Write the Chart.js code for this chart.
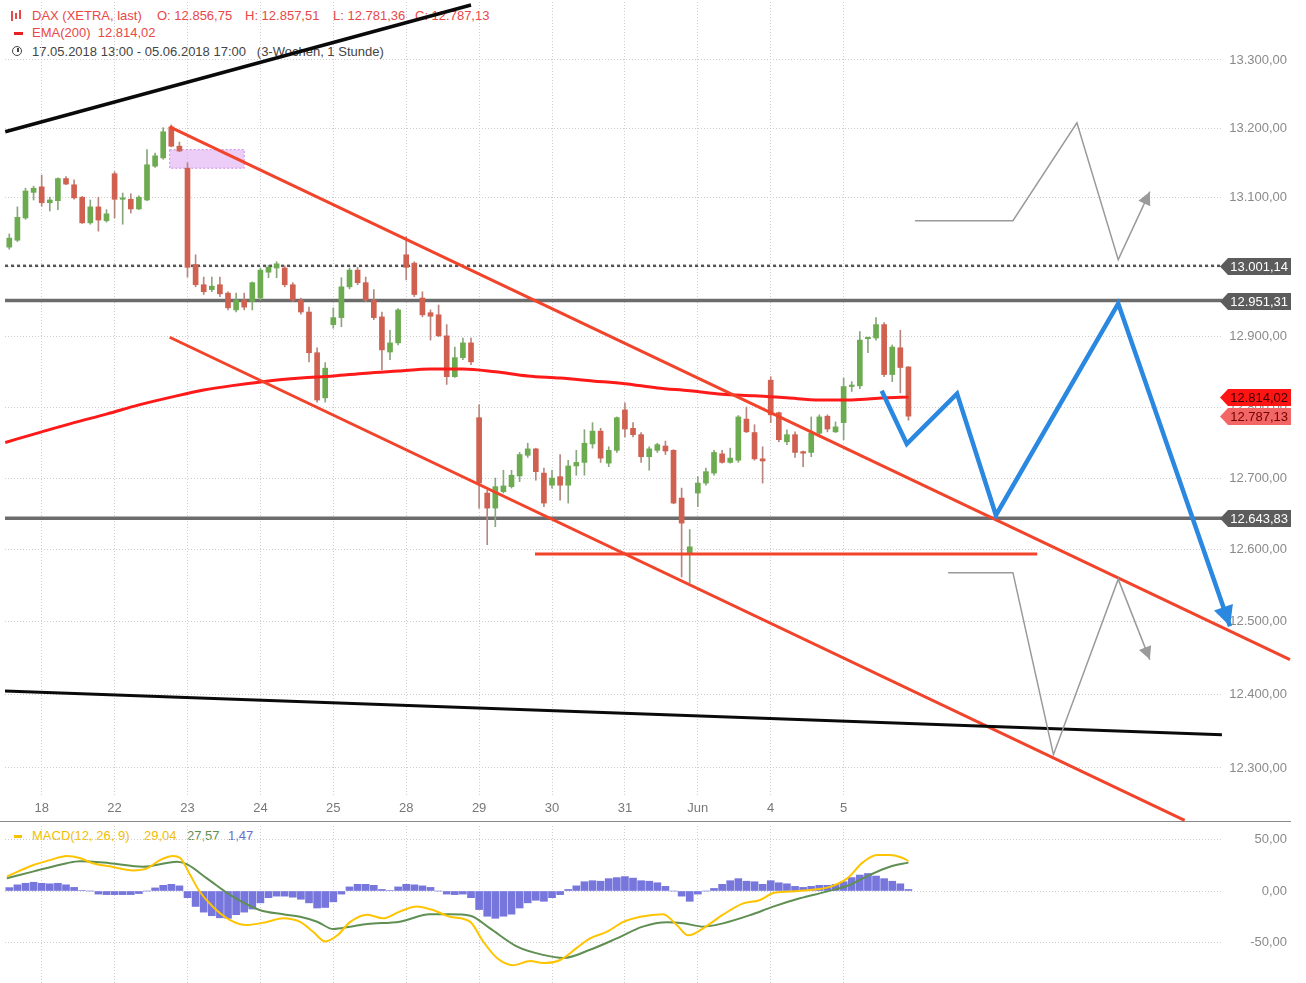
<!DOCTYPE html>
<html>
<head>
<meta charset="utf-8">
<script src="https://cdn.jsdelivr.net/npm/chart.js@4.4.1/dist/chart.umd.min.js"></script>
<style>
  html, body { margin: 0; padding: 0; background: #fff; }
  body { width: 1306px; height: 983px; position: relative; overflow: hidden; font-family: "Liberation Sans", Arial, sans-serif; }
  canvas { position: absolute; left: 0; z-index: 2; }
  #main { top: 0; }
  #macd { top: 822px; }
  .t { position: absolute; font-size: 13px; line-height: 16px; white-space: nowrap; z-index: 1; }
  .red { color: #e84848; }
  .sep { position: absolute; left: 0; top: 821px; width: 1291px; height: 1px; background: #8a8a8a; z-index: 1; }
  .ic { position: absolute; z-index: 1; }
</style>
</head>
<body>
<!-- Legenda hlavního grafu -->
<span class="ic" style="left:11px;top:11px;width:2px;height:10px;background:#e84848"></span>
<span class="ic" style="left:15px;top:13px;width:2px;height:6px;background:#e84848"></span>
<span class="ic" style="left:19px;top:10px;width:2px;height:9px;background:#e84848"></span>
<div class="t red" style="left:32px;top:8px">DAX (XETRA, last)</div>
<div class="t red" style="left:157px;top:8px">O: 12.856,75</div>
<div class="t red" style="left:245px;top:8px">H: 12.857,51</div>
<div class="t red" style="left:333px;top:8px">L: 12.781,36</div>
<div class="t red" style="left:415px;top:8px">C: 12.787,13</div>
<span class="ic" style="left:14px;top:32px;width:9px;height:3px;background:#e82020"></span>
<div class="t red" style="left:32px;top:25px">EMA(200)&nbsp; 12.814,02</div>
<span class="ic" style="left:12px;top:46px;width:8px;height:8px;border:1.6px solid #444;border-radius:50%"></span>
<span class="ic" style="left:17px;top:48px;width:1.5px;height:4px;background:#444"></span>
<div class="t" style="left:32px;top:44px;color:#444">17.05.2018 13:00 - 05.06.2018 17:00&nbsp;&nbsp; (3-Wochen, 1 Stunde)</div>
<!-- Legenda MACD -->
<span class="ic" style="left:14px;top:835px;width:8px;height:3px;background:#f7c200"></span>
<div class="t" style="left:32px;top:828px;color:#f2bd00">MACD(12, 26, 9)</div>
<div class="t" style="left:144px;top:828px;color:#f2bd00">29,04</div>
<div class="t" style="left:187px;top:828px;color:#5f8f52">27,57</div>
<div class="t" style="left:228px;top:828px;color:#6a6ad2">1,47</div>
<div class="sep"></div>
<canvas id="main" width="1306" height="822"></canvas>
<canvas id="macd" width="1306" height="161"></canvas>
<script>
Chart.defaults.font.family = '"Liberation Sans", Arial, sans-serif';
Chart.defaults.font.size = 13;
Chart.defaults.animation = false;

// Osa X: index hodinové svíčky, popisky na první svíčce dne
const dayIdx = [4, 13, 22, 31, 40, 49, 58, 67, 76, 85, 94, 103];
const dayLabels = ['18', '22', '23', '24', '25', '28', '29', '30', '31', 'Jun', '4', '5'];
const priceTicks = [12300, 12400, 12500, 12600, 12700, 12800, 12900, 13000, 13100, 13200, 13300];
const macdTicks = [-50, 0, 50];

// DAX 1h OHLC (17.05. 14:00 – 05.06. 17:00)
const open = [13028, 13038, 13070, 13107, 13115, 13092, 13095, 13127, 13118, 13100,
  13063, 13086, 13066, 13134, 13097, 13097, 13083, 13096, 13145, 13157,
  13202, 13174, 13142, 13003, 12974, 12967, 12974, 12962, 12938, 12952,
  12950, 12955, 12992, 12998, 12998, 12974, 12952, 12935, 12877, 12813,
  12917, 12927, 12971, 12995, 12977, 12952, 12928, 12878, 12891, 13017,
  13005, 12955, 12934, 12931, 12901, 12843, 12870, 12891, 12785, 12679,
  12658, 12681, 12688, 12703, 12732, 12741, 12707, 12690, 12702, 12690,
  12717, 12722, 12748, 12766, 12721, 12739, 12796, 12770, 12761, 12730,
  12739, 12745, 12739, 12672, 12595, 12679, 12693, 12707, 12734, 12722,
  12725, 12783, 12764, 12727, 12838, 12792, 12751, 12761, 12736, 12736,
  12763, 12787, 12765, 12778, 12829, 12830, 12897, 12898, 12917, 12846,
  12884, 12856.75];
const high = [13047, 13086, 13113, 13116, 13132, 13100, 13128, 13130, 13125, 13101,
  13096, 13100, 13082, 13137, 13106, 13105, 13102, 13169, 13164, 13201,
  13205, 13180, 13150, 13017, 12985, 12985, 12985, 12964, 12962, 12962,
  12978, 12998, 13002, 13007, 13001, 12977, 12955, 12942, 12884, 12863,
  12941, 12984, 12998, 12999, 12985, 12967, 12935, 12909, 12940, 13043,
  13007, 12964, 12938, 12945, 12917, 12885, 12898, 12898, 12803, 12683,
  12700, 12711, 12711, 12736, 12749, 12742, 12714, 12711, 12733, 12725,
  12739, 12768, 12778, 12770, 12744, 12786, 12806, 12778, 12764, 12744,
  12749, 12752, 12740, 12686, 12628, 12702, 12714, 12739, 12739, 12742,
  12788, 12800, 12775, 12744, 12843, 12793, 12768, 12765, 12738, 12786,
  12789, 12789, 12779, 12841, 12836, 12907, 12899, 12927, 12920, 12888,
  12909, 12857.51];
const low = [13025, 13036, 13068, 13096, 13087, 13080, 13082, 13118, 13097, 13062,
  13061, 13051, 13064, 13070, 13061, 13077, 13082, 13095, 13143, 13155,
  13173, 13166, 12985, 12971, 12960, 12964, 12957, 12938, 12935, 12938,
  12938, 12952, 12984, 12984, 12971, 12950, 12932, 12864, 12807, 12807,
  12912, 12914, 12968, 12974, 12950, 12924, 12853, 12867, 12888, 12981,
  12957, 12928, 12895, 12900, 12832, 12842, 12867, 12860, 12658, 12607,
  12632, 12679, 12686, 12695, 12729, 12697, 12660, 12686, 12669, 12665,
  12704, 12704, 12742, 12722, 12716, 12736, 12758, 12758, 12722, 12711,
  12736, 12733, 12664, 12562, 12554, 12660, 12690, 12704, 12721, 12721,
  12722, 12764, 12725, 12693, 12778, 12751, 12747, 12729, 12716, 12730,
  12758, 12765, 12764, 12754, 12822, 12826, 12877, 12895, 12843, 12836,
  12820, 12781.36];
const close = [13041, 13071, 13109, 13113, 13092, 13096, 13127, 13119, 13099, 13063,
  13086, 13067, 13076, 13097, 13099, 13083, 13100, 13147, 13160, 13195,
  13174, 13167, 12999, 12974, 12964, 12972, 12961, 12941, 12952, 12942,
  12977, 12995, 12999, 13004, 12974, 12952, 12935, 12877, 12810, 12855,
  12927, 12971, 12995, 12977, 12952, 12927, 12881, 12891, 12938, 12999,
  12960, 12931, 12929, 12901, 12843, 12870, 12891, 12864, 12693, 12658,
  12688, 12689, 12704, 12733, 12741, 12709, 12665, 12700, 12690, 12717,
  12722, 12749, 12766, 12728, 12739, 12785, 12769, 12761, 12730, 12741,
  12747, 12738, 12665, 12637, 12604, 12693, 12709, 12736, 12722, 12728,
  12786, 12765, 12727, 12724, 12789, 12754, 12761, 12736, 12735, 12763,
  12786, 12769, 12772, 12829, 12831, 12895, 12898, 12917, 12846, 12885,
  12856, 12787.13];

// EMA(200) odečtená po 4 svíčkách
const emaIdx = [-0.5, 4, 8, 12, 16, 20, 24, 28, 32, 36, 40, 44, 48, 52, 56, 60, 64, 68, 72, 76, 80, 84, 88, 92, 96, 100, 104, 108, 111];
const emaVal = [12750, 12765, 12778, 12790, 12803, 12814, 12824, 12831, 12837, 12841, 12844, 12848, 12851, 12854, 12854,
  12850, 12844, 12841, 12837, 12833, 12827, 12823, 12818, 12816, 12813, 12810, 12810, 12813, 12814.02];

// Horizontální úrovně a kresby (index svíčky, cena)
const levels = [13001.14, 12951.31, 12643.83];
const supportX = [64.9, 126.9];
const supportY = [12594, 12594];
const chanTopX = [19.8, 158.1];
const chanTopY = [13202, 12448];
const chanBotX = [19.8, 145.1];
const chanBotY = [12899, 12229];
const trendUpX = [-0.5, 57];
const trendUpY = [13195, 13381];
const trendLowX = [-0.53, 149.7];
const trendLowY = [12405, 12345];
const boxX = [19.8, 29.0];
const boxY = [13142, 13169];
const blueX = [107.7, 110.8, 117.0, 121.8, 136.9, 150.7];
const blueY = [12823, 12748, 12819, 12648, 12947, 12494];
const grayUpX = [111.8, 123.9, 131.8, 136.9, 140.8];
const grayUpY = [13066, 13066, 13208, 13010, 13108];
const grayDnX = [115.9, 123.9, 128.9, 136.9, 140.8];
const grayDnY = [12568, 12568, 12318, 12559, 12448];

// MACD(12, 26, 9)
const macdIdx = [-0.3, 2.9, 5.0, 7.1, 8.7, 10.3, 12.4, 15.3, 17.0, 18.6, 20.2, 21.1, 22.3, 23.5, 25.1, 27.2, 29.3, 31.8, 33.8, 35.9,
  37.5, 39.0, 40.5, 42.1, 44.2, 46.1, 48.2, 50.3, 52.3, 54.4, 56.9, 58.5, 60.2, 62.2, 64.3, 65.9, 68.0, 70.1, 71.7, 73.8,
  75.8, 77.9, 80.7, 82.4, 83.8, 85.7, 88.1, 90.6, 92.6, 94.3, 96.4, 98.9, 101.3, 103.4, 105.4, 107.1, 108.7, 110.3, 111];
const macdVal = [14, 25, 30, 34, 32, 27, 24, 20, 22, 30, 34, 32, 16, -0.5, -15, -28, -33, -30, -26.5, -30,
  -39.5, -49, -43, -30, -23, -26.5, -20, -15, -18.5, -25, -30, -49, -65, -72, -68, -70, -67, -55, -46, -39.5,
  -30, -25, -22.5, -33, -43, -36, -23, -12, -9, -2, -0.5, 1, 4, 12, 28, 35, 35, 32, 29.04];
const sigIdx = [-0.3, 2.9, 7.1, 8.7, 12.4, 16.5, 20.7, 21.9, 24.4, 27.6, 30.9, 33.8, 35.9, 38.0, 40.0, 42.1, 44.2, 48.2, 51.9, 54.4,
  56.9, 59.3, 62.7, 65.9, 68.4, 71.7, 75.0, 78.2, 81.2, 83.2, 85.7, 88.1, 91.5, 94.3, 97.6, 100.9, 103.7, 106.2, 108.7, 111];
const sigVal = [12.3, 18.8, 27, 29, 27, 23.6, 28.5, 26, 12.3, -5.5, -18.4, -22.6, -25, -29.8, -36.9, -34.6, -32, -29.8, -22.6, -22.6,
  -24, -36, -54, -62, -65, -57, -46, -34.6, -30.4, -31.4, -34.6, -31.4, -23.3, -15.2, -7.1, -0.6, 5.8, 15.5, 23.6, 27.57];
const hist = [3.3, 6, 7.5, 8.5, 7.5, 7, 7.5, 6, 3.5, 0.5, 0, -3, -3.5, -3.5, -3.5, -3.5, -2.5, 0, 3, 5.5,
  6.5, 5, -6.5, -15, -20.5, -24, -26, -26.5, -23, -20.5, -17.5, -11.5, -6.5, -5, -5, -6, -8, -11.5, -16.5, -16,
  -10.5, -3, 4, 6.5, 6.5, 5.5, 1.5, 0.5, 4, 6.5, 6, 5, 3.5, 0, -3, -3.5, -3, -6.5, -18, -24.5,
  -26.5, -24.5, -22.5, -16.5, -11.5, -9, -10, -6.5, -3.5, 1.5, 5, 9, 10, 9.5, 12, 13, 14, 12.5, 10, 9.5,
  8, 4.5, 0, -5, -10, -3, 0, 2.5, 6.5, 10, 12, 9.5, 9, 6.5, 10, 8, 7, 4.5, 3.5, 4.5,
  5.5, 5.5, 6.5, 9, 13, 15.5, 17, 14.5, 12, 9.5, 7, 1.47];

const X_MIN = -0.53;
const X_MAX = 149.71;
const GREEN = '#6cab50';
const RED = '#d0604f';
const GRID = '#cdcdcd';

const fmt = (v) => {
    const [a, b] = Math.abs(v).toFixed(2).split('.');
    return (v < 0 ? '-' : '') + a.replace(/\B(?=(\d{3})+(?!\d))/g, '.') + ',' + b;
};
const pts = (xs, ys) => xs.map((x, k) => ({ x, y: ys[k] }));
const line = (data, color, width, extra = {}) => ({ type: 'line', data, borderColor: color, borderWidth: width, pointRadius: 0, tension: 0, fill: false, ...extra });

const tags = [
    { value: levels[0], bg: '#5c5c5c', fg: '#ffffff' },
    { value: levels[1], bg: '#5c5c5c', fg: '#ffffff' },
    { value: levels[2], bg: '#5c5c5c', fg: '#ffffff' },
    { value: emaVal[emaVal.length - 1], bg: '#ff1414', fg: '#3a0000' },
    { value: close[close.length - 1], bg: '#f26666', fg: '#700000' },
];

// Cenové štítky vpravo
const tagPlugin = {
    id: 'priceTags',
    afterDraw(chart) {
        const { ctx, chartArea, scales: { y } } = chart;
        tags.forEach((t) => {
            const py = Math.round(y.getPixelForValue(t.value)) + 0.5;
            const x0 = chartArea.right - 2;
            ctx.save();
            ctx.fillStyle = t.bg;
            ctx.beginPath();
            ctx.moveTo(x0, py);
            ctx.lineTo(x0 + 8, py - 8.5);
            ctx.lineTo(1291, py - 8.5);
            ctx.lineTo(1291, py + 8.5);
            ctx.lineTo(x0 + 8, py + 8.5);
            ctx.closePath();
            ctx.fill();
            ctx.fillStyle = t.fg;
            ctx.font = '13px "Liberation Sans", Arial, sans-serif';
            ctx.textBaseline = 'middle';
            ctx.textAlign = 'right';
            ctx.fillText(fmt(t.value), 1288, py + 1);
            ctx.restore();
        });
    },
};

// Šipky na konci projekčních čar
const arrowPlugin = {
    id: 'arrows',
    afterDatasetsDraw(chart) {
        const ctx = chart.ctx;
        chart.data.datasets.forEach((ds, i) => {
            if (!ds.arrowSize) return;
            const p = chart.getDatasetMeta(i).data;
            const a = p[p.length - 2];
            const b = p[p.length - 1];
            const ang = Math.atan2(b.y - a.y, b.x - a.x);
            const L = ds.arrowSize;
            const W = ds.arrowSize * 0.5;
            const bx = b.x - L * Math.cos(ang);
            const by = b.y - L * Math.sin(ang);
            ctx.save();
            ctx.fillStyle = ds.borderColor;
            ctx.beginPath();
            ctx.moveTo(b.x, b.y);
            ctx.lineTo(bx + W * Math.sin(ang), by - W * Math.cos(ang));
            ctx.lineTo(bx - W * Math.sin(ang), by + W * Math.cos(ang));
            ctx.closePath();
            ctx.fill();
            ctx.restore();
        });
    },
};

const xAxis = (showTicks) => ({
    type: 'linear',
    min: X_MIN,
    max: X_MAX,
    offset: false,
    grid: { color: GRID, drawTicks: false, offset: false },
    border: { display: false, dash: [1, 2] },
    ticks: { display: showTicks, autoSkip: false, maxRotation: 0, color: '#777', padding: 4, callback: (v) => dayLabels[dayIdx.indexOf(v)] },
    afterBuildTicks: (s) => { s.ticks = dayIdx.map((v) => ({ value: v })); },
    afterFit: (s) => { s.height = showTicks ? 25 : 0; s.paddingLeft = 0; s.paddingRight = 0; },
});

const yTicks = { color: '#8a8a8a', padding: 7, crossAlign: 'far', callback: (v) => fmt(v) };

// ── Hlavní graf ─────────────────────────────────────────────
new Chart(document.getElementById('main'), {
    type: 'bar',
    data: {
        datasets: [
            line(pts(blueX, blueY), '#2a88e0', 4.5, { order: 1, clip: false, arrowSize: 20 }),
            line(pts(grayUpX, grayUpY), '#9a9a9a', 1.5, { order: 2, arrowSize: 13 }),
            line(pts(grayDnX, grayDnY), '#9a9a9a', 1.5, { order: 2, arrowSize: 13 }),
            line(pts(trendUpX, trendUpY), '#0a0a0a', 3.5, { order: 3, clip: false }),
            line(pts(trendLowX, trendLowY), '#0a0a0a', 3, { order: 3 }),
            line(pts(chanTopX, chanTopY), '#f2432b', 3, { order: 4, clip: false }),
            line(pts(chanBotX, chanBotY), '#f2432b', 3, { order: 4, clip: false }),
            line(pts(supportX, supportY), '#f2432b', 3, { order: 4 }),
            line(pts(emaIdx, emaVal), '#ff1a1a', 3, { order: 5, tension: 0.4, cubicInterpolationMode: 'monotone' }),
            {
                type: 'bar', order: 6, grouped: false, barThickness: 5, minBarLength: 1.5,
                data: open.map((o, i) => ({ x: i, y: [o, close[i]] })),
                backgroundColor: open.map((o, i) => (close[i] >= o ? GREEN : RED)),
            },
            {
                type: 'bar', order: 7, grouped: false, barThickness: 1,
                data: open.map((o, i) => ({ x: i, y: [low[i], high[i]] })),
                backgroundColor: open.map((o, i) => (close[i] >= o ? '#8aa67c' : '#b88680')),
            },
            line(pts([boxX[0], boxX[1], boxX[1], boxX[0], boxX[0]], [boxY[1], boxY[1], boxY[0], boxY[0], boxY[1]]),
                '#c98be0', 1, { order: 8, fill: 'shape', backgroundColor: 'rgba(224,172,244,0.6)', borderDash: [2, 2] }),
            line(pts([X_MIN, X_MAX], [levels[0], levels[0]]), '#555', 2.5, { order: 9, borderDash: [3, 3] }),
            line(pts([X_MIN, X_MAX], [levels[1], levels[1]]), '#6c6c6c', 3.5, { order: 9 }),
            line(pts([X_MIN, X_MAX], [levels[2], levels[2]]), '#6c6c6c', 3.5, { order: 9 }),
        ],
    },
    options: {
        responsive: false,
        devicePixelRatio: 1,
        events: [],
        layout: { padding: { left: 5, top: 2, right: 19, bottom: 0 } },
        plugins: { legend: { display: false }, tooltip: { enabled: false } },
        scales: {
            x: xAxis(true),
            y: {
                type: 'logarithmic',
                position: 'right',
                min: 12260.6,
                max: 13385.4,
                grid: { color: GRID, drawTicks: false },
                border: { display: false, dash: [1, 2] },
                ticks: yTicks,
                afterBuildTicks: (s) => { s.ticks = priceTicks.map((v) => ({ value: v })); },
                afterFit: (s) => { s.width = 65; s.paddingTop = 0; s.paddingBottom = 0; },
            },
        },
    },
    plugins: [arrowPlugin, tagPlugin],
});

// ── MACD ───────────────────────────────────────────────────
new Chart(document.getElementById('macd'), {
    type: 'bar',
    data: {
        datasets: [
            line(pts(macdIdx, macdVal), '#ffc400', 2, { order: 1, tension: 0.4, cubicInterpolationMode: 'monotone' }),
            line(pts(sigIdx, sigVal), '#5f8f52', 2, { order: 2, tension: 0.4, cubicInterpolationMode: 'monotone' }),
            { type: 'bar', order: 3, barThickness: 7, data: hist.map((h, i) => ({ x: i, y: h })), backgroundColor: '#7676dc' },
        ],
    },
    options: {
        responsive: false,
        devicePixelRatio: 1,
        events: [],
        layout: { padding: { left: 5, top: 4, right: 19, bottom: 0 } },
        plugins: { legend: { display: false }, tooltip: { enabled: false } },
        scales: {
            x: xAxis(false),
            y: {
                type: 'linear',
                position: 'right',
                min: -89.3,
                max: 63.1,
                grid: { color: GRID, drawTicks: false },
                border: { display: false, dash: [1, 2] },
                ticks: yTicks,
                afterBuildTicks: (s) => { s.ticks = macdTicks.map((v) => ({ value: v })); },
                afterFit: (s) => { s.width = 65; s.paddingTop = 0; s.paddingBottom = 0; },
            },
        },
    },
});
</script>
</body>
</html>
